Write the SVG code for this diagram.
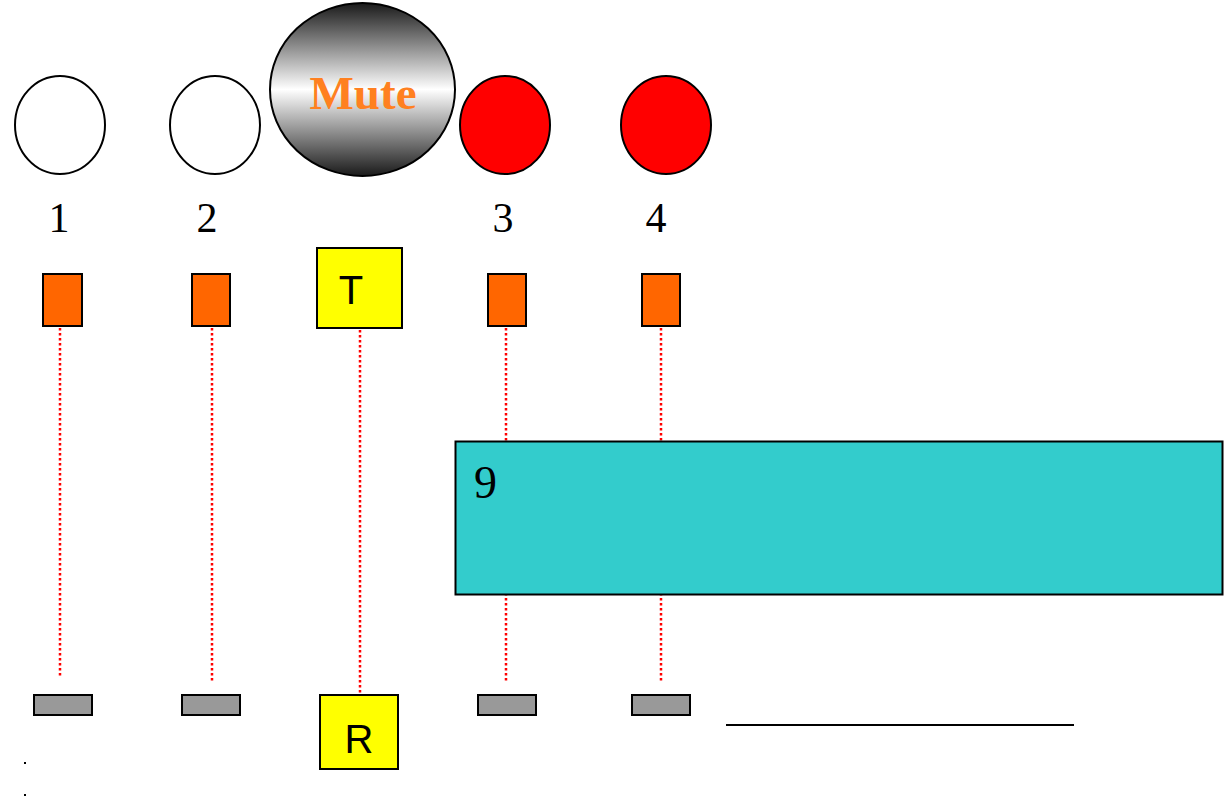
<svg xmlns="http://www.w3.org/2000/svg" width="1230" height="797" viewBox="0 0 1230 797">
<defs>
<linearGradient id="muteGrad" x1="0" y1="0" x2="0" y2="1">
<stop offset="0" stop-color="#1a1a1a"/>
<stop offset="0.5" stop-color="#ffffff"/>
<stop offset="1" stop-color="#1a1a1a"/>
</linearGradient>
<style>
.circ{stroke:#000;stroke-width:2}
.num{font-family:"Liberation Serif",serif;font-size:42px;fill:#000;text-anchor:middle}
.orange{fill:#FF6600;stroke:#000;stroke-width:2}
.gray{fill:#999999;stroke:#000;stroke-width:2}
.yellow{fill:#FFFF00;stroke:#000;stroke-width:2}
.letter{font-family:"Liberation Sans",sans-serif;font-size:40px;fill:#000;text-anchor:middle}
.dot{stroke:#FF0000;stroke-width:2.5;stroke-dasharray:2.5 2.5;fill:none}
</style>
</defs>
<g id="connectors">
<line class="dot" x1="60" y1="328" x2="60" y2="677"/>
<line class="dot" x1="212" y1="328" x2="212" y2="681"/>
<line class="dot" x1="360" y1="330" x2="360" y2="695"/>
<line class="dot" x1="506" y1="328" x2="506" y2="683"/>
<line class="dot" x1="661" y1="328" x2="661" y2="681"/>
</g>
<g id="circle1"><ellipse class="circ" cx="60" cy="125" rx="45" ry="49" fill="#fff"/></g>
<g id="circle2"><ellipse class="circ" cx="215" cy="125" rx="45" ry="49" fill="#fff"/></g>
<g id="mute"><ellipse class="circ" cx="362.5" cy="89.5" rx="92.5" ry="86.5" fill="url(#muteGrad)"/>
<text x="363" y="109" font-family="Liberation Serif,serif" font-weight="bold" font-size="47" fill="#FF8020" text-anchor="middle">Mute</text></g>
<g id="circle3"><ellipse class="circ" cx="505" cy="125" rx="45" ry="49" fill="#FF0000"/></g>
<g id="circle4"><ellipse class="circ" cx="666" cy="125" rx="45" ry="49" fill="#FF0000"/></g>
<g id="labels">
<text class="num" x="59" y="232">1</text>
<text class="num" x="207" y="232">2</text>
<text class="num" x="503" y="232">3</text>
<text class="num" x="656" y="232">4</text>
</g>
<g id="tx1"><rect class="orange" x="43" y="274" width="39" height="52"/></g>
<g id="tx2"><rect class="orange" x="192" y="274" width="38" height="52"/></g>
<g id="T"><rect class="yellow" x="317" y="248" width="85" height="80"/><text class="letter" x="351" y="304">T</text></g>
<g id="tx3"><rect class="orange" x="488" y="274" width="38" height="52"/></g>
<g id="tx4"><rect class="orange" x="642" y="274" width="38" height="52"/></g>
<g id="box9"><rect x="455.5" y="441.5" width="767" height="153" fill="#33CCCC" stroke="#000" stroke-width="2"/>
<text x="474" y="498" font-family="Liberation Serif,serif" font-size="46" fill="#000">9</text></g>
<g id="rx1"><rect class="gray" x="34" y="695" width="58" height="20"/></g>
<g id="rx2"><rect class="gray" x="182" y="695" width="58" height="20"/></g>
<g id="R"><rect class="yellow" x="320" y="695" width="78" height="74"/><text class="letter" x="359" y="753">R</text></g>
<g id="rx3"><rect class="gray" x="478" y="695" width="58" height="20"/></g>
<g id="rx4"><rect class="gray" x="632" y="695" width="58" height="20"/></g>
<line x1="726" y1="725" x2="1074" y2="725" stroke="#000" stroke-width="2"/>
<rect x="24" y="762" width="2" height="2" fill="#000"/>
<rect x="24" y="794" width="2" height="2" fill="#000"/>
</svg>
